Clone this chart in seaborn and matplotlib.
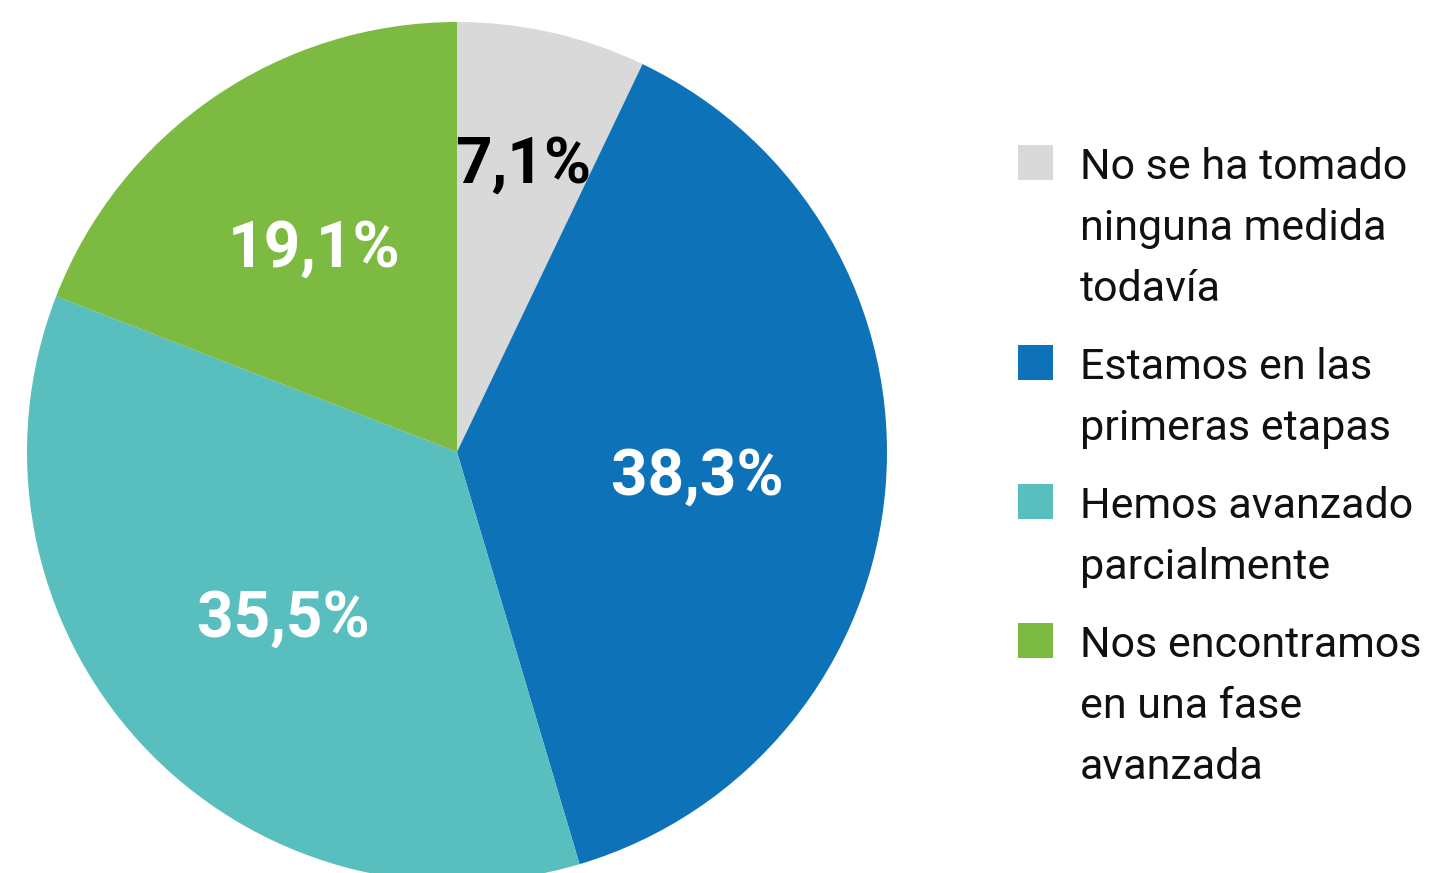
import matplotlib
matplotlib.use("Agg")
import matplotlib.pyplot as plt
import seaborn as sns
import numpy as np
from matplotlib.patches import Rectangle

categories = ["No se ha tomado\nninguna medida\ntodavía",
              "Estamos en las\nprimeras etapas",
              "Hemos avanzado\nparcialmente",
              "Nos encontramos\nen una fase\navanzada"]
values = [7.1, 38.3, 35.5, 19.1]
value_labels = ["7,1%", "38,3%", "35,5%", "19,1%"]
colors = ["#d9d9d9", "#0e72b9", "#58bebe", "#7dba41"]
label_colors = ["#000000", "#ffffff", "#ffffff", "#ffffff"]
label_radius = [0.70, 0.56, 0.55, 0.59]

sns.set_theme(style="white")
plt.rcParams['font.family'] = ['Roboto', 'DejaVu Sans']

W, H = 1439, 873
fig = plt.figure(figsize=(W / 100, H / 100), dpi=100)
cx, cy, R = 457, 452, 430
ax = fig.add_axes([(cx - R) / W, (H - cy - R) / H, 2 * R / W, 2 * R / H])

wedges, _ = ax.pie(values, colors=colors, startangle=90, counterclock=False,
                   radius=1, wedgeprops=dict(linewidth=0))
ax.set_xlim(-1, 1)
ax.set_ylim(-1, 1)
ax.set_aspect('equal')
ax.axis('off')

for w, lab, col, r in zip(wedges, value_labels, label_colors, label_radius):
    ang = np.deg2rad((w.theta1 + w.theta2) / 2)
    ax.text(r * np.cos(ang), r * np.sin(ang), lab, ha='center', va='center_baseline',
            fontsize=46, fontweight='bold', color=col)

# legend (manual, first-line aligned markers)
line_step = 61
entry_gap = 78
baseline = 179
x_sq, x_txt = 1018, 1080
sq = 35
for cat, col in zip(categories, colors):
    lines = cat.split("\n")
    fig.patches.append(Rectangle((x_sq / W, (H - baseline - 1) / H), sq / W, sq / H,
                                 transform=fig.transFigure, facecolor=col,
                                 edgecolor='none'))
    for i, ln in enumerate(lines):
        fig.text(x_txt / W, (H - baseline) / H, ln, ha='left', va='baseline',
                 fontsize=31, fontweight='normal', color='#111111')
        if i < len(lines) - 1:
            baseline += line_step
    baseline += entry_gap

fig.savefig("out.png", dpi=100)
